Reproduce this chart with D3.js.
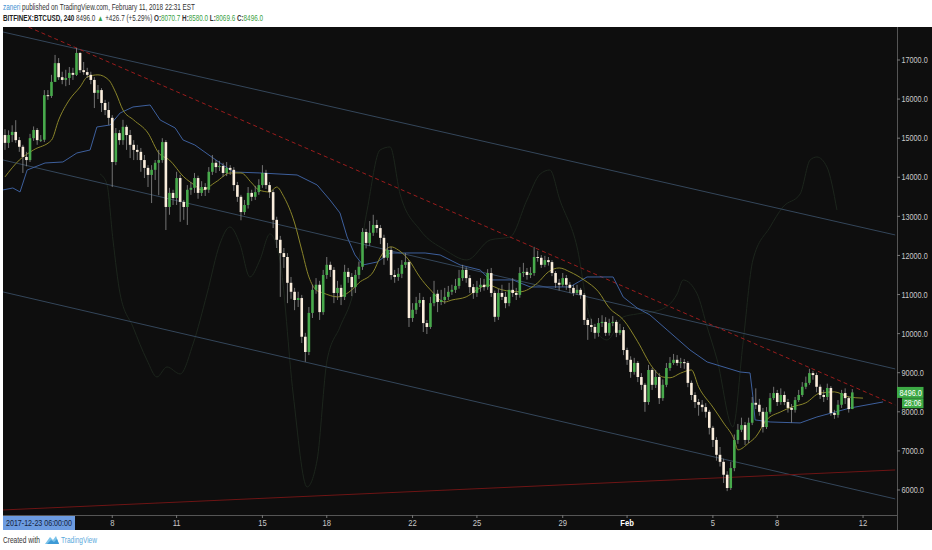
<!DOCTYPE html>
<html>
<head>
<meta charset="utf-8">
<script src="https://cdn.jsdelivr.net/npm/d3@7"></script>
<style>
  body { margin: 0; background: #fff; }
  svg { display: block; }
  text { font-family: "Liberation Sans", Arial, sans-serif; }
</style>
</head>
<body>
<svg id="chart"></svg>
<script>
// BITFINEX:BTCUSD 4h candles, Jan 3 - Feb 11 2018 (one value per bar, open = previous close)
const firstOpen = 15080;
const closes = [
14880,15080,15160,14950,14780,14520,14440,15000,15210,14950,
14960,16100,16080,16440,16920,16560,16490,16540,16670,16620,
17180,16740,16690,16620,16490,16160,16230,15900,15720,15520,
14390,15130,14950,15290,15080,14830,14700,14650,14440,14240,
14060,14190,14370,14440,14900,13240,13600,13470,13980,13370,
13240,13680,13730,13980,13600,13750,13680,14140,14370,14260,
14290,14110,14240,14190,13800,13500,13110,13290,13600,13500,
13620,13800,14110,13800,13620,12910,12400,12060,11960,11300,
11070,10860,10910,9920,9530,10530,11120,11250,10550,11500,
11760,11630,11040,11170,10940,11580,11450,11190,11500,11710,
12600,12320,12580,12780,12700,12450,11940,12140,11500,11450,
11530,11760,11830,10400,10610,10780,10860,10270,10170,10780,
11020,10810,10860,10940,11070,11120,11220,11420,11630,11420,
11190,11040,11190,11250,11190,11550,11040,10430,11040,10940,
10780,11120,11040,10990,11550,11580,11500,11550,11960,11940,
11760,11880,11830,11550,11300,11250,11420,11250,11170,11040,
11120,10990,10350,10220,10170,10020,10270,10300,10020,10270,
10300,10020,10090,9580,9330,9020,9250,8890,8690,8250,
9070,8690,8890,8350,8690,9120,9250,9330,9250,9270,
9250,8740,8430,8250,8180,8120,8000,7590,7280,6900,
6720,6390,6050,6560,7280,7540,7660,7280,7720,8230,
8180,8000,7610,8000,8350,8480,8250,8430,8250,8100,
8050,8300,8430,8640,8740,8990,8940,8640,8430,8380,
8610,7970,7920,8180,8480,8350,8070.7,8496
];
const highs = [
15230,15200,15330,15460,15030,14830,14650,15110,15300,15260,
15080,16230,16230,16620,17130,17050,16700,16750,16820,16800,
17310,17200,16950,16800,16700,16560,16360,16280,15980,15930,
15590,15260,15210,15470,15340,15210,14950,14830,14750,14570,
14310,14310,14440,14700,15000,14950,13730,13680,14140,14060,
13420,13800,13880,14110,14040,13900,13850,14260,14570,14440,
14420,14370,14390,14310,14260,13880,13550,13420,13750,13680,
13780,13950,14310,14190,13880,13680,12990,12500,12190,12060,
11450,11170,11070,10990,10020,10680,11250,11420,11350,11630,
11960,11840,11700,11350,11250,11760,11680,11550,11630,11840,
12700,12680,12880,13040,12910,12780,12530,12320,12220,11630,
11680,11880,12060,11880,10780,10940,11040,10940,10350,10940,
11350,11120,11120,11170,11220,11250,11400,11630,11760,11700,
11500,11270,11350,11420,11400,11650,11680,11100,11150,11250,
11070,11300,11420,11170,11700,11810,11680,11700,12220,12120,
12010,11990,11960,11880,11600,11400,11550,11500,11320,11250,
11250,11170,11040,10400,10380,10250,10400,10470,10420,10380,
10450,10350,10250,10170,9640,9420,9380,9300,8990,8740,
9200,9120,9070,8990,8830,9250,9400,9480,9450,9380,
9350,9300,8800,8500,8330,8300,8220,8050,7640,7350,
7100,6800,6480,6720,7420,7690,7850,7740,7850,8380,
8600,8330,8100,8120,8480,8640,8560,8600,8520,8330,
8200,8380,8560,8760,8900,9100,9050,9000,8700,8560,
8720,8660,8050,8300,8560,8600,8400,8580
];
const lows = [
14700,14750,14900,14880,14650,14110,14280,14390,14930,14830,
14900,14900,15980,16030,16440,16490,16380,16330,16360,16490,
16590,16670,16620,16540,16380,15770,16000,15670,15590,15340,
13750,14310,14830,14830,14700,14490,14440,14440,14140,13980,
13750,13340,13930,13540,14370,12650,13040,13290,13290,12860,
12910,12780,13550,13600,13450,13520,13520,13600,14060,14110,
14160,14010,14030,14060,13650,13370,12900,13040,13200,13390,
13420,13550,13730,13700,13470,12700,12190,10940,11680,10780,
10890,10600,10680,9760,9280,9450,10400,11020,10350,10480,
11400,11450,10780,10860,10730,10860,11300,10960,11040,11400,
11630,12180,12240,12500,12580,12290,11760,11870,11380,11300,
11350,11420,11680,10170,10300,10500,10680,10040,9990,10120,
10700,10550,10730,10760,10860,10990,11040,11150,11350,11300,
11040,10890,10940,11070,11100,11120,10940,10300,10350,10860,
10650,10700,10940,10860,10920,11450,11380,11420,11480,11840,
11680,11700,11740,11470,11170,11100,11200,11120,11040,10960,
10990,10890,10220,9840,10040,9870,9920,10170,9940,9950,
10190,9910,9960,9450,9200,8870,8950,8760,8560,8000,
8180,8560,8610,8200,8280,8630,9050,9200,9180,9120,
9100,8630,8300,8100,7900,8000,7850,7420,7100,6750,
6600,6180,5970,6000,6480,7180,7480,7150,7200,7660,
8070,7900,7470,7560,7950,8300,8150,8180,8170,7980,
7720,7980,8250,8380,8580,8690,8820,8500,8330,8250,
8300,7900,7820,7850,8100,8200,7980,8069.6
];

// moving average (yellow) at bar positions
const yellowBars = [0,4,8,13,15,18,21,23,26,29,31,33,36,40,43,46,50,53,55,59,63,66,69,71,74,76,78,81,83,85,87,89,93,97,99,103,105,108,110,113,116,119,123,125,129,132,135,139,144,149,152,155,158,162,166,169,173,177,181,184,186,189,192,194,198,201,204,205,208,210,213,217,220,224,228,232,236,240];
const yellowVals = [14010,14440,14700,14950,15465,15980,16310,16565,16620,16490,16160,15720,15465,15130,14620,14440,14010,13800,13675,13880,14110,14110,13855,13675,13624,13750,13500,12830,12140,11450,11120,11040,10940,11120,11300,11580,11960,12220,12140,11880,11450,11120,10810,10860,10940,11120,11245,11120,11070,11300,11580,11680,11580,11370,11070,10660,10350,9790,9150,8890,8870,8990,9070,8640,8120,7715,7280,7025,7200,7360,7790,8000,8120,8230,8480,8510,8380,8350];

// base line (blue)
const blueBars = [-0.6,2.2,4.2,6.2,11.2,16.2,20.1,23.8,25.7,29.4,32.2,35.8,40.6,43.4,47.6,49.8,53.1,58.2,63.8,71.3,81.7,87.3,90.9,93.7,95.7,97.9,100.1,104.1,107.7,117.5,121.7,127.3,132.9,135.7,142.1,146.9,158.0,162.8,170.1,172.9,176.8,180.4,185.2,191.6,196.4,205.6,208.4,209.2,209.8,214.0,222.4,227.1,236.4,245.6];
const blueVals = [13675,13726,13624,14186,14365,14391,14621,14698,15286,15338,15644,15798,15849,15465,15261,14954,14826,14493,14135,14110,14058,13803,13419,13086,12473,12012,11756,11833,12063,12063,12012,11756,11628,11373,11373,11194,11194,11449,11449,10938,10657,10478,10094,9582,9275,9019,8994,8380,7792,7740,7715,7868,8098,8252];

// faint oscillating line
const faintBars = [26.6,28.5,30.2,32.2,35.8,39.7,42.5,45.3,49.0,52.6,56.5,60.1,62.9,65.7,68.5,71.3,74.1,76.9,80.6,84.5,87.3,90.1,93.7,97.3,101.3,104.9,107.7,110.5,116.1,123.1,129.2,135.7,141.3,146.0,149.7,152.4,155.2,160.0,163.6,168.4,172.9,176.8,183.2,188.0,189.7,193.6,196.4,199.2,203.6,206.4,209.2,214.0,217.6,222.4,225.2,227.1,229.9,232.7];
const faintVals = [14084,13828,12396,11015,10171,9326,8891,9147,8968,9735,11015,12294,12728,12294,11449,11884,12550,11884,8456,6078,6768,9326,10171,11015,13163,14698,14775,13573,12652,12140,11884,12396,12472,13419,14084,14186,13419,12217,10426,9838,10426,10503,10605,11015,11372,11015,10171,9326,7612,9735,11884,12728,13240,13573,14442,14519,14263,13163];

// drawn trend lines: [bar, price] endpoints
const lineBars = [-0.56, 249];
const channelTop = [17716, 12524];
const channelMid = [14442, 9096];
const channelLow = [11066, 5771];
const redDashed = [18126, 8175];
const redFloor = [5489, 6512];

const priceTicks = [6000,7000,8000,9000,10000,11000,12000,13000,14000,15000,16000,17000];
const dayTicks = ["2018-01-08","2018-01-11","2018-01-15","2018-01-18","2018-01-22","2018-01-25","2018-01-29","2018-02-01","2018-02-05","2018-02-08","2018-02-12"];
const dayLabels = ["8","11","15","18","22","25","29","Feb","5","8","12"];

const W = 932, H = 550;
const plotL = 3, plotR = 897, plotT = 27, plotB = 515, axisB = 530;

const t0 = Date.UTC(2018, 0, 3);
const H4 = 4 * 3600 * 1000;
const barTime = i => new Date(t0 + i * H4);

const x = d3.scaleTime()
  .domain([barTime(-0.56), barTime(249.5)])
  .range([plotL, plotR]);
const y = d3.scaleLinear()
  .domain([5360, 17844])
  .range([plotB, plotT]);

const svg = d3.select("#chart").attr("width", W).attr("height", H);

// dark chart background incl. axes
svg.append("rect").attr("x", plotL).attr("y", plotT)
  .attr("width", W - plotL).attr("height", axisB - plotT).attr("fill", "#0e0e0e");

svg.append("clipPath").attr("id", "plot")
  .append("rect").attr("x", plotL).attr("y", plotT)
  .attr("width", plotR - plotL).attr("height", plotB - plotT);

const g = svg.append("g").attr("clip-path", "url(#plot)");

const pathFrom = (bars, vals, curve) => d3.line()
  .x((d, i) => x(barTime(bars[i])))
  .y(d => y(d))
  .curve(curve || d3.curveLinear)(vals);

// faint line
g.append("path").attr("d", pathFrom(faintBars, faintVals, d3.curveMonotoneX))
  .attr("fill", "none").attr("stroke", "#1c251c").attr("stroke-width", 1);

// channel
[channelTop, channelMid, channelLow].forEach(c => {
  g.append("path").attr("d", pathFrom(lineBars, c))
    .attr("fill", "none").attr("stroke", "#34465a").attr("stroke-width", 1);
});
g.append("path").attr("d", pathFrom(lineBars, redDashed))
  .attr("fill", "none").attr("stroke", "#9a1c1c").attr("stroke-width", 1)
  .attr("stroke-dasharray", "4,3");
g.append("path").attr("d", pathFrom(lineBars, redFloor))
  .attr("fill", "none").attr("stroke", "#6e1515").attr("stroke-width", 1);

// indicators
g.append("path").attr("d", pathFrom(blueBars, blueVals))
  .attr("fill", "none").attr("stroke", "#3d5f9c").attr("stroke-width", 1);
g.append("path").attr("d", pathFrom(yellowBars, yellowVals, d3.curveMonotoneX))
  .attr("fill", "none").attr("stroke", "#8a852a").attr("stroke-width", 1);

// candles
const bars = closes.map((c, i) => ({
  t: barTime(i),
  o: i === 0 ? firstOpen : closes[i - 1],
  h: highs[i], l: lows[i], c: c
}));
const bw = 2.6;
const candle = g.selectAll(".bar").data(bars).enter().append("g").attr("class", "bar");
candle.append("line")
  .attr("x1", d => x(d.t)).attr("x2", d => x(d.t))
  .attr("y1", d => y(d.h)).attr("y2", d => y(d.l))
  .attr("stroke", "#8d8d8d").attr("stroke-width", 0.8);
candle.append("rect")
  .attr("x", d => x(d.t) - bw / 2)
  .attr("y", d => y(Math.max(d.o, d.c)))
  .attr("width", bw)
  .attr("height", d => Math.max(1, Math.abs(y(d.o) - y(d.c))))
  .attr("fill", d => d.c >= d.o ? "#48aa4c" : "#fbeedd");

// squeeze a text horizontally to a given width (TradingView uses a narrow face)
function squeeze(sel, w) {
  const node = sel.node();
  const n = node.getComputedTextLength();
  const x0 = +sel.attr("x") || 0;
  const anchor = sel.attr("text-anchor");
  const k = Math.min(1, w / n);
  sel.attr("transform", `translate(${x0},0) scale(${k},1) translate(${-x0},0)`);
  return sel;
}
const fmt = d3.format(".1f");

// right price axis
svg.append("line").attr("x1", plotR + 0.5).attr("x2", plotR + 0.5)
  .attr("y1", plotT).attr("y2", axisB).attr("stroke", "#555");
const yt = svg.append("g").selectAll("g").data(priceTicks).enter().append("g")
  .attr("transform", d => `translate(${plotR},${y(d)})`);
yt.append("line").attr("x1", 0).attr("x2", 3).attr("stroke", "#777");
yt.append("text").attr("x", 4.5).attr("dy", "0.35em")
  .attr("font-size", 9).attr("fill", "#c9c9c9")
  .text(d => fmt(d))
  .each(function(d) { squeeze(d3.select(this), fmt(d).length * 3.75); });

// last price tags
const last = closes[closes.length - 1];
svg.append("rect").attr("x", plotR).attr("y", y(last) - 5.5)
  .attr("width", 26.5).attr("height", 11).attr("fill", "#3daa45");
squeeze(svg.append("text").attr("x", plotR + 2.5).attr("y", y(last)).attr("dy", "0.35em")
  .attr("font-size", 9).attr("fill", "#fff")
  .text(fmt(last)), 22.5);
svg.append("rect").attr("x", plotR + 5).attr("y", y(last) + 5.8)
  .attr("width", 21.5).attr("height", 10).attr("fill", "#3daa45");
squeeze(svg.append("text").attr("x", plotR + 7).attr("y", y(last) + 10.8).attr("dy", "0.35em")
  .attr("font-size", 9).attr("fill", "#fff")
  .text("28:06"), 17.5);

// bottom time axis
svg.append("line").attr("x1", plotL).attr("x2", plotR)
  .attr("y1", plotB + 0.5).attr("y2", plotB + 0.5).attr("stroke", "#555");
const parseDay = d3.utcParse("%Y-%m-%d");
const xt = svg.append("g").selectAll("g").data(dayTicks).enter().append("g")
  .attr("transform", d => `translate(${x(parseDay(d))},${plotB})`);
xt.append("line").attr("y1", 0).attr("y2", 3).attr("stroke", "#777");
xt.append("text").attr("y", 11).attr("text-anchor", "middle")
  .attr("font-size", 9)
  .attr("font-weight", (d, i) => dayLabels[i] === "Feb" ? "bold" : "normal")
  .attr("fill", (d, i) => dayLabels[i] === "Feb" ? "#fff" : "#c9c9c9")
  .attr("transform", "scale(0.85,1)")
  .text((d, i) => dayLabels[i]);

// crosshair time tag
svg.append("rect").attr("x", plotL).attr("y", plotB + 1)
  .attr("width", 72).attr("height", axisB - plotB - 1).attr("fill", "#6c9be0");
squeeze(svg.append("text").attr("x", plotL + 3).attr("y", plotB + 11)
  .attr("font-size", 9).attr("fill", "#13223a")
  .text("2017-12-23 06:00:00"), 66);

// header
const h1 = svg.append("text").attr("x", 3).attr("y", 10).attr("font-size", 8.2).attr("fill", "#333");
h1.append("tspan").attr("fill", "#3d8fd1").text("zaneri");
h1.append("tspan").text(" published on TradingView.com, February 11, 2018 22:31 EST");
squeeze(h1, 192);

const green = "#3a9f42";
const h2 = svg.append("text").attr("x", 3).attr("y", 21).attr("font-size", 8.2).attr("fill", "#333");
h2.append("tspan").attr("font-weight", "bold").attr("fill", "#222").text("BITFINEX:BTCUSD, 240");
h2.append("tspan").text(" 8496.0 ");
h2.append("tspan").attr("fill", green).text("▲");
h2.append("tspan").text(" +426.7 (+5.29%) ");
[["O:", "8070.7"], [" H:", "8580.0"], [" L:", "8069.6"], [" C:", "8496.0"]].forEach(p => {
  h2.append("tspan").attr("font-weight", "bold").text(p[0]);
  h2.append("tspan").attr("fill", green).text(p[1]);
});
squeeze(h2, 260);

// footer
squeeze(svg.append("text").attr("x", 3).attr("y", 543).attr("font-size", 8.2).attr("fill", "#333")
  .text("Created with"), 37);
const logo = svg.append("g").attr("transform", "translate(45,535)");
logo.append("path").attr("d", "M0,9 L5,2 L8,5 L11,1 L14,9 Z").attr("fill", "#7cc3ea");
logo.append("path").attr("d", "M2,9 L6,5 L9,7 L12,4 L14,9 Z").attr("fill", "#3d9ad6");
squeeze(svg.append("text").attr("x", 61).attr("y", 543).attr("font-size", 8.2).attr("fill", "#5aa9dc")
  .text("TradingView"), 36);
</script>
</body>
</html>
